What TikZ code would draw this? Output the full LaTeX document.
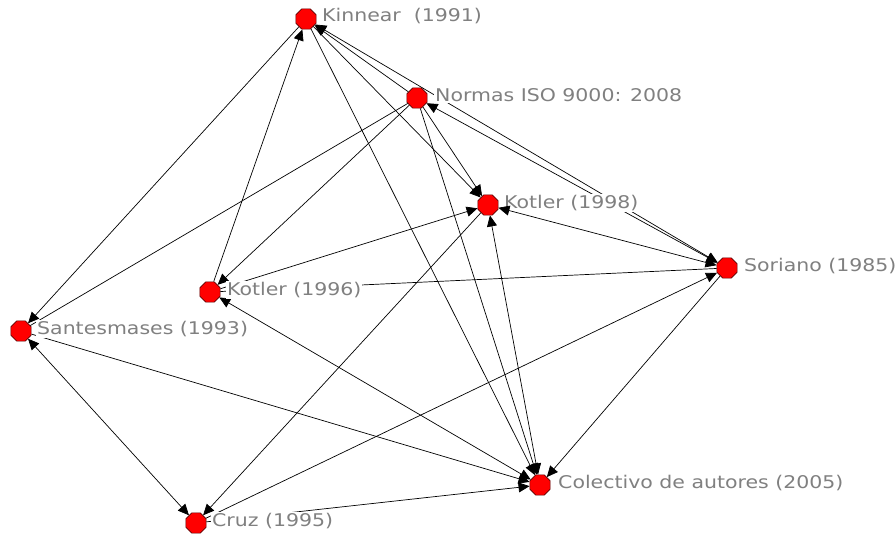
\documentclass[tikz,border=0pt]{standalone}
\usepackage{fontspec}
\newfontfamily\labfont[FakeStretch=1.17]{DejaVu Sans}
\usetikzlibrary{shapes.geometric,arrows.meta}
\definecolor{labgray}{RGB}{128,128,128}
\definecolor{nodered}{RGB}{255,0,0}
\definecolor{nodeline}{RGB}{90,0,0}
\begin{document}
\begin{tikzpicture}[x=1pt,y=-1pt,
  vert/.style={regular polygon,regular polygon sides=8,minimum size=22pt,inner sep=0pt,
    fill=nodered,draw=nodeline,line width=0.6pt},
  lab/.style={anchor=west,fill=white,inner sep=1pt,text=labgray,
    font=\labfont\fontsize{17.5}{20}\selectfont},
  arr/.style={line width=0.7pt,-{Triangle[length=11pt,width=10pt]}},
  barr/.style={line width=0.7pt,{Triangle[length=11pt,width=10pt]}-{Triangle[length=11pt,width=10pt]}},
  pl/.style={line width=0.7pt}]
\useasboundingbox (0,0) rectangle (896,535);
\fill[white] (0,0) rectangle (896,535);
% nodes
\node[vert] (k91) at (306,19) {};
\node[vert] (iso) at (417,98) {};
\node[vert] (k98) at (488,205) {};
\node[vert] (sor) at (727,268) {};
\node[vert] (k96) at (210,292) {};
\node[vert] (san) at (21,331) {};
\node[vert] (col) at (540,485) {};
\node[vert] (cruz) at (196,523) {};
% edges
\draw[arr] (k91) -- (san);
\draw[pl] (iso) -- (san);
\draw[barr] (san) -- (cruz);
\draw[arr] (san) -- (col);
\draw[barr] (k96) -- (col);
\draw[arr] (k96) -- (k91);
\draw[arr] (iso) -- (k96);
\draw[arr] (k96) -- (k98);
\draw[pl] (k96) -- (sor);
\draw[arr] (k91) -- (col);
\draw[arr] (k91) -- (k98);
\draw[arr] (iso) -- (k91);
\draw[barr] (k91) -- (sor);
\draw[barr] (iso) -- (sor);
\draw[arr] (iso) -- (k98);
\draw[arr] (iso) -- (col);
\draw[barr] (k98) -- (col);
\draw[arr] (k98) -- (cruz);
\draw[arr] (cruz) -- (sor);
\draw[arr] (cruz) -- (col);
\draw[arr] (sor) -- (col);
% labels
\node[lab] (lk91) at (321,16) {Kinnear\ \ (1991)};
\node[lab] (liso) at (434,95) {Normas ISO 9000: 2008};
\node[lab] (lk98) at (503,203) {Kotler (1998)};
\node[lab] (lsor) at (743,266) {Soriano (1985)};
\node[lab] (lk96) at (226,290) {Kotler (1996)};
\node[lab] (lsan) at (36,329) {Santesmases (1993)};
\node[lab] (lcol) at (557,483) {Colectivo de autores (2005)};
\node[lab] (lcruz) at (211,521) {Cruz (1995)};
% edge drawn over labels
\draw[barr] (k98) -- (sor);
\end{tikzpicture}
\end{document}
